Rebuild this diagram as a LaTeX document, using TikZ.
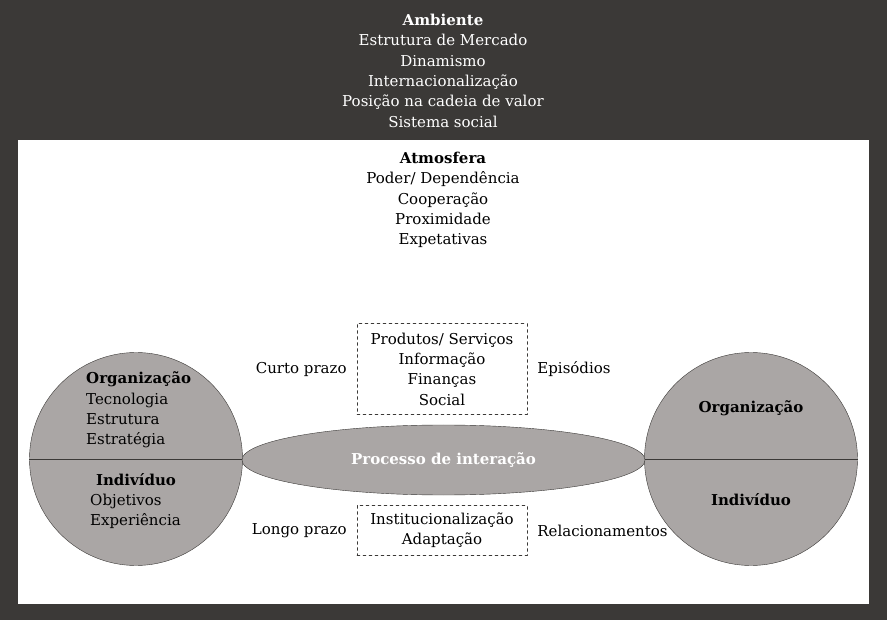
\documentclass[tikz,border=0pt]{standalone}
\usepackage{fontspec}
\setmainfont{DejaVu Serif}
\usetikzlibrary{positioning, shapes.geometric}
\definecolor{fundo}{RGB}{59,57,55}
\definecolor{cinza}{RGB}{170,166,165}
\begin{document}
\begin{tikzpicture}[x=1pt, y=-1pt, line cap = round, line join = round,
	font=\fontsize{15}{20.3}\selectfont,
	circ/.style={circle, draw=fundo, fill=cinza, minimum size=213pt, inner sep=0pt},
	caixa/.style={draw=fundo, dashed, minimum width=170pt, inner sep=0pt},
	txt/.style={align=center, inner sep=0pt}]
		\fill[fundo] (0,0) rectangle (887,620);
		\fill[white] (18,140) rectangle (869,604);
		\node[txt, text=white, anchor=north] (amb) at (443,14) {\textbf{Ambiente}\\Estrutura de Mercado\\Dinamismo\\Internacionalização\\Posição na cadeia de valor\\Sistema social};
		\node[txt, anchor=north] (atm) at (443,152) {\textbf{Atmosfera}\\Poder/ Dependência\\Cooperação\\Proximidade\\Expetativas};
		% circulos e elipse
		\node[circ] (esq) at (136,459) {};
		\node[circ] (dir) at (751,459) {};
		\draw[fundo] (esq.west)--(esq.east) (dir.west)--(dir.east);
		\node[ellipse, draw=fundo, fill=cinza, minimum width=403pt, minimum height=70pt, inner sep=0pt, text=white] (proc) at (443.5,460) {\textbf{Processo de interação}};
		\node[txt, align=left, anchor=west] (orgE) at (86,410) {\textbf{Organização}\\Tecnologia\\Estrutura\\Estratégia};
		\node[txt] (indE) at (136,480) {\textbf{Indivíduo}};
		\node[txt, align=left, anchor=north west] (objE) at (90,494) {Objetivos\\Experiência};
		\node[txt] (orgD) at (751,408) {\textbf{Organização}};
		\node[txt] (indD) at (751,500) {\textbf{Indivíduo}};
		% caixas tracejadas
		\node[caixa, minimum height=91pt, txt] (epi) at (442,369) {Produtos/ Serviços\\Informação\\Finanças\\Social};
		\node[caixa, minimum height=50pt, txt] (rel) at (442,530.5) {Institucionalização\\Adaptação};
		\node[txt, left=10pt of epi] (curto) {Curto prazo};
		\node[txt, right=10pt of epi] (episod) {Episódios};
		\node[txt, left=10pt of rel] (longo) {Longo prazo};
		\node[txt, right=10pt of rel] (relac) {Relacionamentos};
\end{tikzpicture}
\end{document}
